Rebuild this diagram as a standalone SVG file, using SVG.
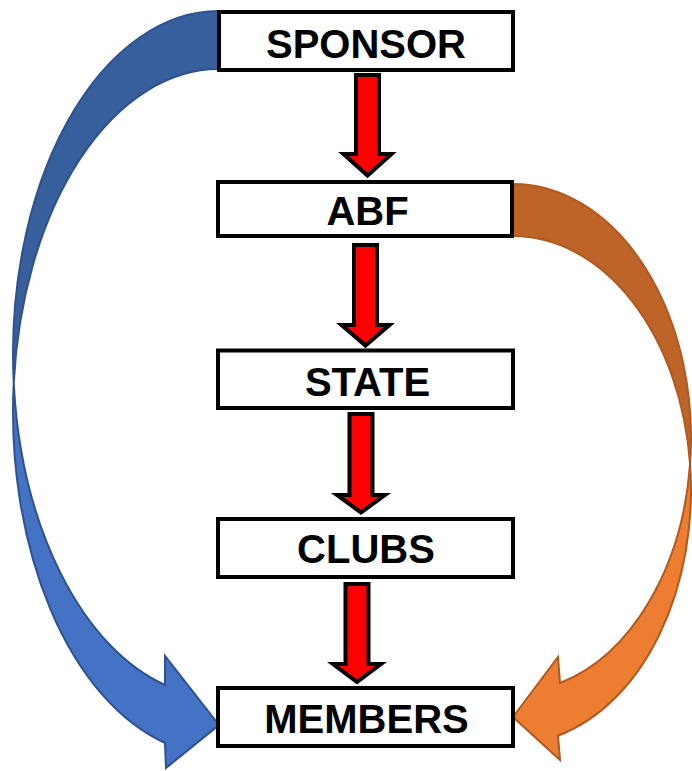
<svg xmlns="http://www.w3.org/2000/svg" width="692" height="771" viewBox="0 0 692 771">
<style>
.box{fill:#fff;stroke:#000;stroke-width:4}
.lbl{font-family:"Liberation Sans",Arial,sans-serif;font-weight:bold;font-size:40px;fill:#000;text-anchor:middle}
.red{fill:#ff0000;stroke:#000;stroke-width:4;stroke-linejoin:miter}
.bback{fill:#375f9c;stroke:#2f528f;stroke-width:2}
.bfront{fill:#4472c4;stroke:#2f528f;stroke-width:2}
.oback{fill:#bf6429;stroke:#ae5a21;stroke-width:2}
.ofront{fill:#ed7d31;stroke:#ae5a21;stroke-width:2}
</style>
<rect width="692" height="771" fill="#fff"/>
<g id="connectors">
  <g id="sponsor-to-members">
    <path class="bback" d="M219 11 A206 343 0 0 0 13.74 383 A206 343 0 0 1 219 69 Z"/>
    <path class="bfront" d="M13.74 383 A206 343 0 0 0 165 743 L166 768 L219 725 L165 656 L165 685 A206 343 0 0 1 13.74 383 Z"/>
  </g>
  <g id="abf-to-members">
    <path class="oback" d="M513 184 A178 254 0 0 1 690.07 464 A178 254 0 0 0 513 236 Z"/>
    <path class="ofront" d="M690.07 464 A178 254 0 0 1 558 735.7 L560 760 L513 717 L558 657 L560 683 A178 254 0 0 0 690.07 464 Z"/>
  </g>
  <path id="sponsor-to-abf" class="red" d="M356 75 H379 V154 H391.5 L367.5 175.5 L343.5 154 H356 Z"/>
  <path id="abf-to-state" class="red" d="M354 245 H377 V325 H389.5 L365.5 345.5 L341.5 325 H354 Z"/>
  <path id="state-to-clubs" class="red" d="M349.5 414 H372.5 V495 H385 L361 512.5 L337 495 H349.5 Z"/>
  <path id="clubs-to-members" class="red" d="M345.5 584 H368.5 V664 H381 L357 682 L333 664 H345.5 Z"/>
</g>
<g id="sponsor"><rect class="box" x="219" y="12" width="294" height="58"/><text class="lbl" x="366" y="58">SPONSOR</text></g>
<g id="abf"><rect class="box" x="218" y="182" width="294" height="54"/><text class="lbl" x="367.5" y="225">ABF</text></g>
<g id="state"><rect class="box" x="218" y="350.5" width="295" height="57.5"/><text class="lbl" x="367.5" y="396">STATE</text></g>
<g id="clubs"><rect class="box" x="218" y="519" width="295" height="58"/><text class="lbl" x="366" y="563">CLUBS</text></g>
<g id="members"><rect class="box" x="218" y="688" width="295" height="58"/><text class="lbl" x="366.5" y="733">MEMBERS</text></g>
</svg>
